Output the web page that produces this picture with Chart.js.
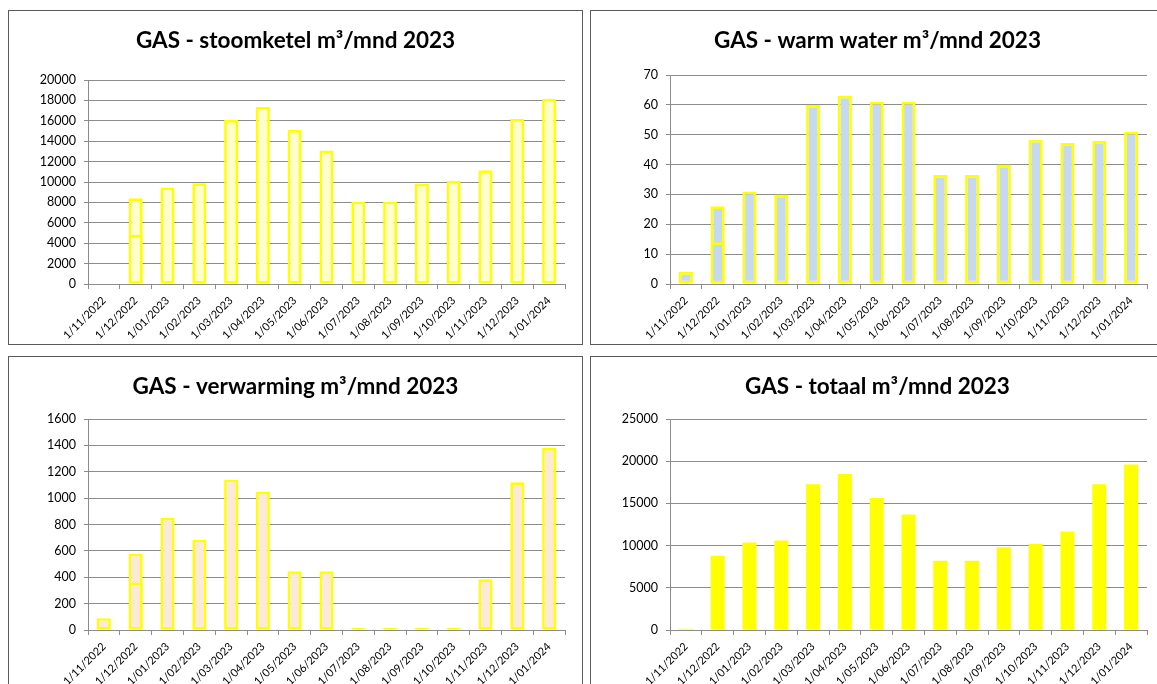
<!DOCTYPE html>
<html>
<head>
<meta charset="utf-8">
<script src="https://cdn.jsdelivr.net/npm/chart.js@4"></script>
<style>
  body { margin:0; background:#fff; width:1157px; height:684px; overflow:hidden; position:relative; }
  .panel { position:absolute; width:575px; height:335px; box-sizing:border-box; border:1px solid #5a5a5a; background:#fff; }
  .panel canvas { display:block; }
</style>
</head>
<body>
<div class="panel" style="left:8px;top:10px"><canvas id="c1" width="573" height="333"></canvas></div>
<div class="panel" style="left:590px;top:10px"><canvas id="c2" width="573" height="333"></canvas></div>
<div class="panel" style="left:8px;top:356px"><canvas id="c3" width="573" height="333"></canvas></div>
<div class="panel" style="left:590px;top:356px"><canvas id="c4" width="573" height="333"></canvas></div>
<script>
// maanden (x-as)
const months = ['1/11/2022','1/12/2022','1/01/2023','1/02/2023','1/03/2023','1/04/2023','1/05/2023','1/06/2023','1/07/2023','1/08/2023','1/09/2023','1/10/2023','1/11/2023','1/12/2023','1/01/2024'];

// stoomketel
const stoomketel    = [null, 8400, 9450, 9870, 16080, 17380, 15100, 13100, 8100, 8100, 9830, 10130, 11150, 16180, 18170];
const stoomketelDec = [null, 4800, null, null, null, null, null, null, null, null, null, null, null, null, null];

// warm water
const warmWater    = [4, 26, 31, 30, 60, 63, 61, 61, 36.5, 36.5, 40, 48.3, 47.2, 48, 51];
const warmWaterDec = [null, 14, null, null, null, null, null, null, null, null, null, null, null, null, null];

// verwarming
const verwarming    = [90, 580, 850, 685, 1140, 1050, 445, 445, 15, 15, 15, 15, 385, 1120, 1380];
const verwarmingDec = [null, 360, null, null, null, null, null, null, null, null, null, null, null, null, null];

// totaal
const totaal = [150, 8800, 10360, 10600, 17260, 18490, 15630, 13690, 8210, 8210, 9800, 10200, 11670, 17260, 19600];

const FONT = 'Lato, "Open Sans", sans-serif';
const GRID = '#8c8c8c';

// order: lager = bovenop getekend (de Dec-overlay ligt over de grote balk)
function barSet(data, fill, border, order){
  return {
    data: data,
    order: order,
    backgroundColor: fill,
    borderColor: border,
    borderWidth: border ? 2.7 : 0,
    borderSkipped: false,
    grouped: false,
    barPercentage: 0.44,
    categoryPercentage: 1
  };
}

function makeChart(id, title, datasets, yMax, yStep, plotTop){
  new Chart(document.getElementById(id), {
    type: 'bar',
    data: { labels: months, datasets: datasets },
    options: {
      responsive: false,
      animation: false,
      layout: { padding: { left: 17, right: 17, top: 0, bottom: 0 } },
      plugins: {
        legend: { display: false },
        tooltip: { enabled: false },
        title: {
          display: true,
          text: title,
          color: '#000',
          font: { family: FONT, size: 22.5, weight: 'bold', lineHeight: 1.2 },
          padding: { top: 16, bottom: plotTop - 43 }
        }
      },
      scales: {
        x: {
          afterFit: (s) => { s.height = 60; },
          grid: { offset: true, drawOnChartArea: false, color: GRID, tickLength: 5 },
          border: { color: GRID },
          ticks: { color: '#000', font: { family: FONT, size: 11 }, minRotation: 45, maxRotation: 45, autoSkip: false, padding: 5 }
        },
        y: {
          min: 0, max: yMax,
          afterFit: (s) => { s.width = 62; },
          grid: { color: GRID, tickLength: 4 },
          border: { color: GRID },
          ticks: { stepSize: yStep, color: '#000', font: { family: FONT, size: 12.5 }, padding: 8,
                   callback: (v) => String(v) }
        }
      }
    }
  });
}

makeChart('c1', 'GAS - stoomketel m³/mnd 2023',
  [barSet(stoomketel, '#FFFFCC', '#FFFF00', 1), barSet(stoomketelDec, '#FFFFCC', '#FFFF00', 0)],
  20000, 2000, 69);

makeChart('c2', 'GAS - warm water m³/mnd 2023',
  [barSet(warmWater, '#C6D9F1', '#FFFF00', 1), barSet(warmWaterDec, '#C6D9F1', '#FFFF00', 0)],
  70, 10, 64);

makeChart('c3', 'GAS - verwarming m³/mnd 2023',
  [barSet(verwarming, '#FDE9D9', '#FFFF00', 1), barSet(verwarmingDec, '#FDE9D9', '#FFFF00', 0)],
  1600, 200, 62);

makeChart('c4', 'GAS - totaal m³/mnd 2023',
  [barSet(totaal, '#FFFF00', null, 0)],
  25000, 5000, 62);
</script>
</body>
</html>
